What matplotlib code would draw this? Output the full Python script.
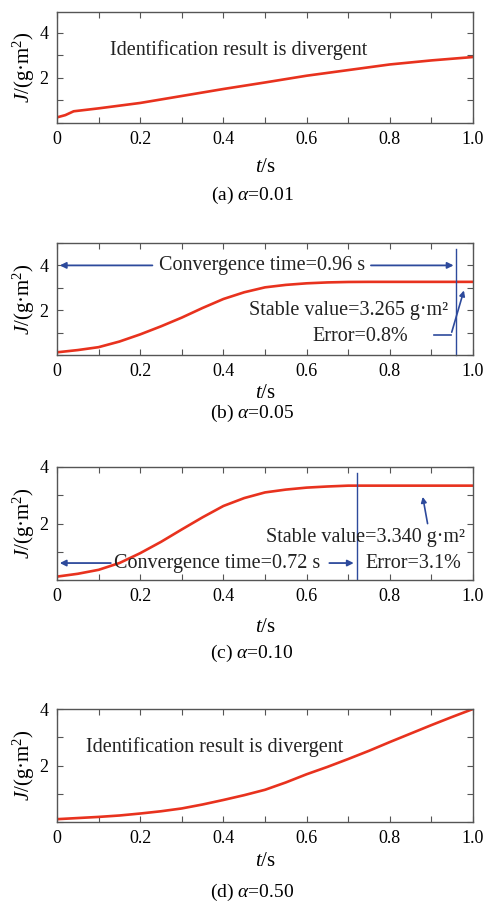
import matplotlib
matplotlib.use("Agg")
import matplotlib.pyplot as plt
from matplotlib.ticker import MultipleLocator

plt.rcParams['font.family'] = ['Liberation Serif', 'DejaVu Serif']
plt.rcParams['mathtext.fontset'] = 'custom'
plt.rcParams['mathtext.rm'] = 'Liberation Serif'
plt.rcParams['mathtext.it'] = 'Liberation Serif:italic'

# data
t_a = [0, 0.02, 0.04, 0.1, 0.2, 0.3, 0.4, 0.5, 0.6, 0.7, 0.8, 0.9, 1.0]
J_a = [0.25, 0.35, 0.52, 0.65, 0.89, 1.2, 1.51, 1.8, 2.1, 2.35, 2.6, 2.78, 2.93]

t_bcd = [0, 0.05, 0.1, 0.15, 0.2, 0.25, 0.3, 0.35, 0.4, 0.45, 0.5,
         0.55, 0.6, 0.65, 0.7, 0.75, 0.8, 0.85, 0.9, 0.95, 1.0]
J_b = [0.12, 0.22, 0.35, 0.6, 0.92, 1.28, 1.67, 2.1, 2.5, 2.8, 3.02,
       3.13, 3.2, 3.24, 3.26, 3.265, 3.265, 3.265, 3.265, 3.265, 3.265]
J_c = [0.12, 0.22, 0.36, 0.6, 0.95, 1.35, 1.79, 2.22, 2.62, 2.9, 3.1,
       3.2, 3.27, 3.31, 3.34, 3.34, 3.34, 3.34, 3.34, 3.34, 3.34]
J_d = [0.1, 0.14, 0.18, 0.23, 0.3, 0.38, 0.48, 0.62, 0.78, 0.95, 1.14,
       1.4, 1.69, 1.95, 2.23, 2.52, 2.83, 3.13, 3.43, 3.72, 4.0]

captions = ['(a) $\\alpha$=0.01', '(b) $\\alpha$=0.05',
            '(c) $\\alpha$=0.10', '(d) $\\alpha$=0.50']
conv_b, conv_c = 0.96, 0.72

RED = '#e8321e'
BLUE = '#2d4a9c'
FRAME = '#555555'

W, H = 487, 910
fig = plt.figure(figsize=(W / 100, H / 100), dpi=100)

# (top px, bottom px, ylim top)
boxes = [(12, 123, 4.93), (243, 355, 5.0), (467, 580, 4.0), (709, 822, 4.0)]
cap_y = [195, 413, 653, 892]
xlab_y = [167, 393, 628, 862]
series = [(t_a, J_a), (t_bcd, J_b), (t_bcd, J_c), (t_bcd, J_d)]

axes = []
for i, (top, bot, ytop) in enumerate(boxes):
    ax = fig.add_axes([57 / W, 1 - bot / H, 416 / W, (bot - top) / H])
    t, J = series[i]
    ax.plot(t, J, color=RED, lw=1.9)
    ax.set_xlim(0, 1.0)
    ax.set_ylim(0, ytop)
    ax.xaxis.set_minor_locator(MultipleLocator(0.1))
    ax.yaxis.set_minor_locator(MultipleLocator(1))
    ax.set_xticks([0, 0.2, 0.4, 0.6, 0.8, 1.0])
    ax.set_xticklabels(['0', '0.2', '0.4', '0.6', '0.8', '1.0'])
    ax.set_yticks([2, 4])
    ax.tick_params(which='both', direction='in', top=True, right=True,
                   length=4, width=0.8, color=FRAME, labelsize=13, pad=6)
    for s in ax.spines.values():
        s.set_color(FRAME)
        s.set_linewidth(1.0)
    ax.set_ylabel('$J$/(g·m$^2$)', fontsize=15, labelpad=2)
    fig.text(265 / W, 1 - xlab_y[i] / H, '$t$/s', ha='center', va='center', fontsize=15)
    fig.text(252 / W, 1 - cap_y[i] / H, captions[i], ha='center', va='center', fontsize=14)
    axes.append(ax)

txt = dict(fontsize=14.5, color='#222222')
one = dict(arrowstyle='-|>', color=BLUE, lw=1.3, mutation_scale=9)

# (a)
axes[0].text(0.128, 3.26, 'Identification result is divergent', va='center', **txt)

# (b)
ax = axes[1]
ax.plot([conv_b, conv_b], [0, 4.75], color=BLUE, lw=1.0, clip_on=False)
ax.annotate('', xy=(0, 4), xytext=(0.236, 4), arrowprops=one)
ax.annotate('', xy=(conv_b, 4), xytext=(0.748, 4), arrowprops=one)
ax.text(0.494, 4, 'Convergence time=0.96 s', ha='center', va='center', **txt)
ax.text(0.94, 1.97, 'Stable value=3.265 g·m²', ha='right', va='center', **txt)
ax.text(0.73, 0.84, 'Error=0.8%', ha='center', va='center', **txt)
ax.plot([0.907, 0.947], [0.9, 0.9], color=BLUE, lw=1.2)
ax.annotate('', xy=(0.98, 3.0), xytext=(0.947, 0.9),
            arrowprops=dict(arrowstyle='-|>', color=BLUE, lw=1.2, mutation_scale=8))

# (c)
ax = axes[2]
ax.plot([conv_c, conv_c], [0, 3.8], color=BLUE, lw=1.0)
ax.annotate('', xy=(0, 0.6), xytext=(0.136, 0.6), arrowprops=one)
ax.annotate('', xy=(conv_c, 0.6), xytext=(0.648, 0.6), arrowprops=one)
ax.text(0.384, 0.6, 'Convergence time=0.72 s', ha='center', va='center', **txt)
ax.text(0.98, 1.49, 'Stable value=3.340 g·m²', ha='right', va='center', **txt)
ax.text(0.856, 0.6, 'Error=3.1%', ha='center', va='center', **txt)
ax.annotate('', xy=(0.878, 3.04), xytext=(0.892, 1.9),
            arrowprops=dict(arrowstyle='-|>', color=BLUE, lw=1.2, mutation_scale=8))

# (d)
axes[3].text(0.07, 2.65, 'Identification result is divergent', va='center', **txt)

fig.savefig('out.png', dpi=100)
